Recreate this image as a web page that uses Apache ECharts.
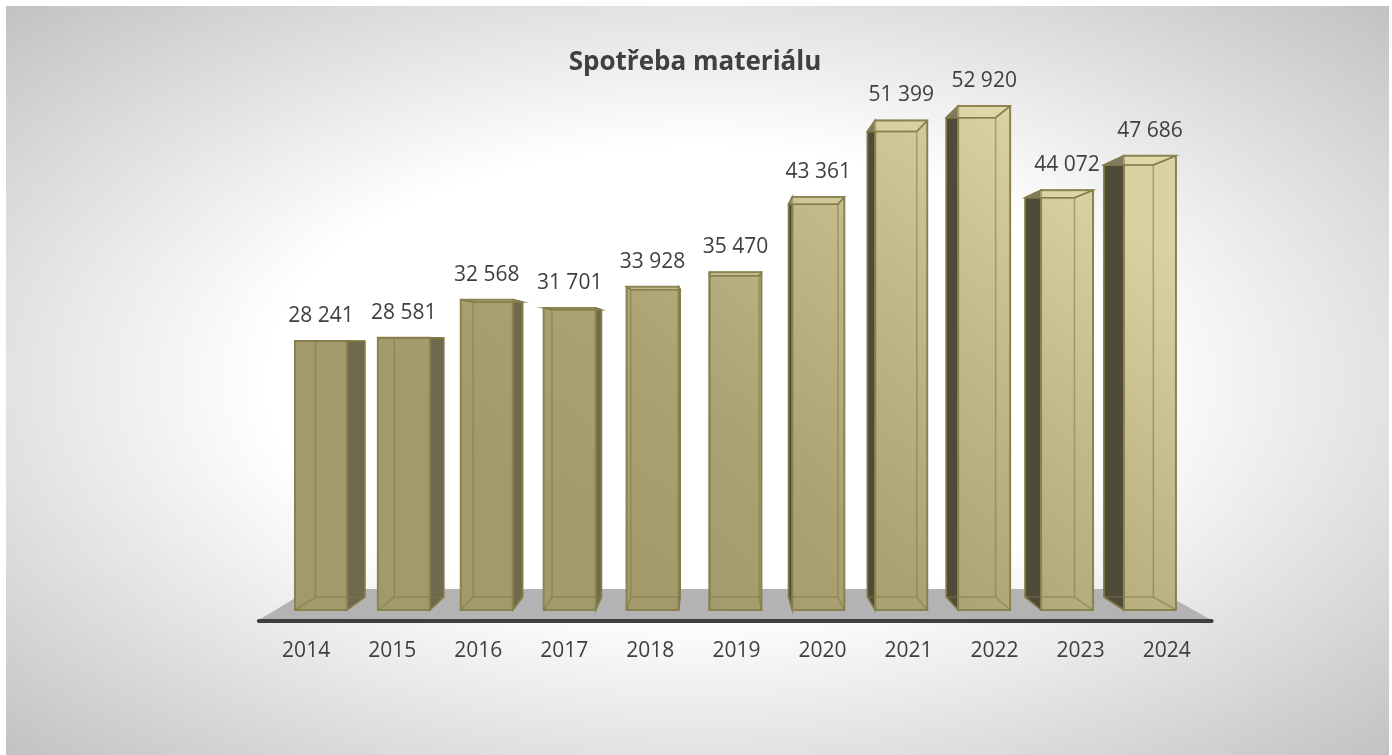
<!DOCTYPE html>
<html>
<head>
<meta charset="utf-8">
<script src="https://cdn.jsdelivr.net/npm/echarts@6/dist/echarts.min.js"></script>
<style>
  html, body { margin: 0; padding: 0; background: #fff; }
  #bg { position: absolute; left: 6px; top: 6px; width: 1383px; height: 749px;
        background: radial-gradient(ellipse farthest-corner at 50% 50%, #fff 0%, #fff 44%, #c2c2c2 100%); }
  #chart { position: absolute; left: 0; top: 0; width: 1392px; height: 755px; }
</style>
</head>
<body>
<div id="bg"></div>
<div id="chart"></div>
<script>
  // data
  var roky = ['2014', '2015', '2016', '2017', '2018', '2019', '2020', '2021', '2022', '2023', '2024'];
  var spotreba = [28241, 28581, 32568, 31701, 33928, 35470, 43361, 51399, 52920, 44072, 47686];

  // fake 3D (perspective toward one vanishing point)
  var VP = [714, 345];
  var BACK = 0.951;        // back face of the columns
  var FLOOR_FRONT = 1.038;
  var FLOOR_BACK = 0.921;
  var BAR_RATIO = 0.627;

  var EDGE = '#8a8350';
  var FRONT_FILL = {
    type: 'linear', x: 1000, y: 100, x2: 600, y2: 560, global: true,
    colorStops: [
      { offset: 0, color: '#d9d2a2' },
      { offset: 0.35, color: '#c0b888' },
      { offset: 0.7, color: '#aaa272' },
      { offset: 1, color: '#a29a6a' }
    ]
  };

  function proj(p, s) {
    return [VP[0] + s * (p[0] - VP[0]), VP[1] + s * (p[1] - VP[1])];
  }

  function fmt(v) {
    return String(v).replace(/\B(?=(\d{3})+(?!\d))/g, ' ');
  }

  function renderFloor(params, api) {
    var cs = params.coordSys;
    var yb = api.coord([0, 0])[1];
    var l = cs.x - 4, r = cs.x + cs.width + 2;
    var fl = proj([l, yb], FLOOR_FRONT), fr = proj([r, yb], FLOOR_FRONT);
    var bl = proj([l, yb], FLOOR_BACK), br = proj([r, yb], FLOOR_BACK);
    return {
      type: 'group',
      children: [
        { type: 'polygon', shape: { points: [bl, br, fr, fl] }, style: { fill: '#b3b3b3' } },
        { type: 'line', shape: { x1: fl[0], y1: fl[1] + 1, x2: fr[0], y2: fr[1] + 1 },
          style: { stroke: '#3f3f3f', lineWidth: 4, lineCap: 'round' } }
      ]
    };
  }

  function renderBar(params, api) {
    var idx = api.value(0);
    var val = api.value(1);
    var top = api.coord([idx, val]);
    var base = api.coord([idx, 0]);
    var w = api.size([1, 0])[0] * BAR_RATIO;
    var x0 = top[0] - w / 2, x1 = top[0] + w / 2, yt = top[1], yb = base[1];
    var f = [[x0, yt], [x1, yt], [x1, yb], [x0, yb]];
    var b = f.map(function (p) { return proj(p, BACK); });
    var leftSide = top[0] < VP[0];
    var side = leftSide ? [f[1], f[2], b[2], b[1]] : [f[0], f[3], b[3], b[0]];
    var inner = { stroke: 'rgba(128,120,66,0.55)', lineWidth: 1.5, fill: 'none' };
    var children = [
      { type: 'polygon', shape: { points: side },
        style: { fill: leftSide ? '#6f6a4e' : '#4f4b39', stroke: EDGE, lineWidth: 1.5 } },
      { type: 'polygon', shape: { points: f },
        style: { fill: FRONT_FILL, stroke: EDGE, lineWidth: 2 } },
      { type: 'polygon', shape: { points: [f[0], f[1], b[1], b[0]] },
        style: { fill: 'rgba(235,230,190,0.3)', stroke: EDGE, lineWidth: 1.5 } },
      { type: 'polygon', shape: { points: b }, style: inner }
    ];
    for (var k = 0; k < 4; k++) {
      children.push({ type: 'line', shape: { x1: f[k][0], y1: f[k][1], x2: b[k][0], y2: b[k][1] }, style: inner });
    }
    children.push({
      type: 'text',
      style: {
        text: fmt(val), x: top[0], y: yt - 25, align: 'center', verticalAlign: 'middle',
        font: '21px "Open Sans"', fill: '#404040'
      }
    });
    return { type: 'group', children: children };
  }

  var chart = echarts.init(document.getElementById('chart'));

  var option = {
    backgroundColor: 'transparent',
    animation: false,
    title: {
      text: 'Spotřeba materiálu',
      left: 690, top: 45, textAlign: 'center',
      textStyle: { fontFamily: 'Open Sans', fontSize: 26, fontWeight: 'bold', color: '#404040' }
    },
    grid: [
      { left: 279.5, right: 200.6, top: 38.5, bottom: 145 },
      { left: 263.1, right: 182.3, top: 38.5, bottom: 135 }
    ],
    xAxis: [
      { type: 'category', data: roky, gridIndex: 0, show: false },
      { type: 'category', data: roky, gridIndex: 1,
        axisLine: { show: false }, axisTick: { show: false },
        axisLabel: { margin: 21, fontFamily: 'Open Sans', fontSize: 21, color: '#404040' } }
    ],
    yAxis: [
      { type: 'value', min: 0, max: 60000, gridIndex: 0, show: false },
      { type: 'value', min: 0, max: 60000, gridIndex: 1, show: false }
    ],
    series: [
      {
        type: 'custom', name: 'floor', z: 1, silent: true,
        xAxisIndex: 0, yAxisIndex: 0,
        data: [[0, 0]],
        renderItem: renderFloor
      },
      {
        type: 'custom', name: 'Spotřeba materiálu', z: 2,
        xAxisIndex: 0, yAxisIndex: 0,
        encode: { x: 0, y: 1 },
        data: spotreba.map(function (v, i) { return [i, v]; }),
        renderItem: renderBar
      }
    ]
  };

  chart.setOption(option);
</script>
</body>
</html>
